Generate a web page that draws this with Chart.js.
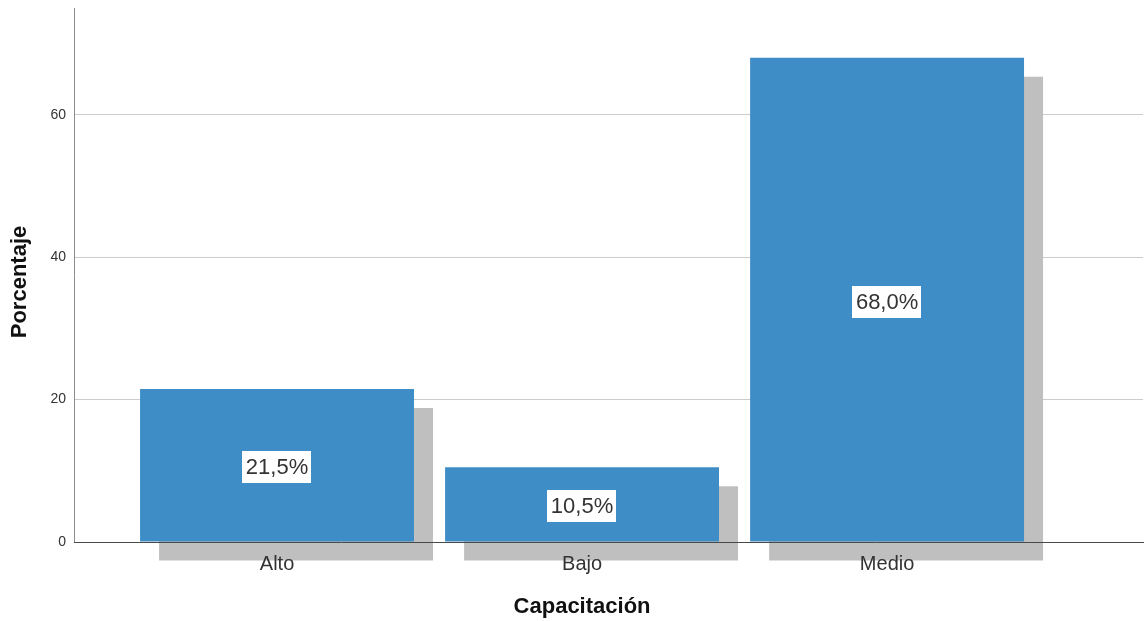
<!DOCTYPE html>
<html>
<head>
<meta charset="utf-8">
<script src="https://cdn.jsdelivr.net/npm/chart.js@4"></script>
<style>
  html, body { margin: 0; padding: 0; background: #ffffff; }
  #wrap { width: 1146px; height: 621px; position: relative; }
</style>
</head>
<body>
<div id="wrap"><canvas id="barChart"></canvas></div>
<script>
// data
const categories = ['Alto', 'Bajo', 'Medio'];
const percentages = [21.5, 10.5, 68.0];
const valueLabels = ['21,5%', '10,5%', '68,0%'];
const yTicks = [0, 20, 40, 60];
const xTitle = 'Capacitación';
const yTitle = 'Porcentaje';

const FONT = '"Liberation Sans", Arial, sans-serif';

// grey drop shadow behind every bar (canvas shadow, no blur)
const shadowPlugin = {
    id: 'barShadow',
    beforeDatasetsDraw(chart) {
        const ctx = chart.ctx;
        ctx.save();
        ctx.shadowColor = '#bfbfbf';
        ctx.shadowBlur = 0;
        ctx.shadowOffsetX = 19;
        ctx.shadowOffsetY = 19;
    },
    afterDatasetsDraw(chart) {
        chart.ctx.restore();
    }
};

// white boxes with the percent in the middle of each bar + axis titles
const labelPlugin = {
    id: 'labels',
    afterDraw(chart) {
        const ctx = chart.ctx;
        const meta = chart.getDatasetMeta(0);
        ctx.save();
        ctx.font = '22px ' + FONT;
        ctx.textAlign = 'center';
        ctx.textBaseline = 'middle';
        meta.data.forEach((bar, i) => {
            const txt = valueLabels[i];
            const cx = bar.x;
            const cy = (bar.y + bar.base) / 2 + 2;
            const w = ctx.measureText(txt).width + 7;
            const h = 32;
            ctx.fillStyle = '#ffffff';
            ctx.fillRect(Math.round(cx - w / 2), Math.round(cy - h / 2), Math.round(w), h);
            ctx.fillStyle = '#333333';
            ctx.fillText(txt, cx, cy + 1);
        });

        // axis titles
        const xs = chart.scales.x;
        const area = chart.chartArea;
        ctx.fillStyle = '#111111';
        ctx.font = 'bold 22px ' + FONT;
        const midX = (xs.getPixelForValue(0) + xs.getPixelForValue(categories.length - 1)) / 2;
        ctx.fillText(xTitle, midX, 607);

        ctx.translate(20, (area.top + area.bottom) / 2 + 7);
        ctx.rotate(-Math.PI / 2);
        ctx.fillText(yTitle, 0, 0);
        ctx.restore();
    }
};

function initChart() {
    const ctx = document.getElementById('barChart').getContext('2d');
    new Chart(ctx, {
        type: 'bar',
        data: {
            datasets: [{
                label: yTitle,
                data: percentages.map((v, i) => ({ x: i, y: v })),
                backgroundColor: '#3e8dc6',
                borderWidth: 0,
                barPercentage: 0.898,
                categoryPercentage: 1.0,
                clip: false
            }]
        },
        options: {
            responsive: true,
            maintainAspectRatio: false,
            animation: false,
            layout: { padding: { top: 8, right: 3, left: 0, bottom: 0 } },
            plugins: {
                legend: { display: false },
                tooltip: { enabled: false }
            },
            scales: {
                x: {
                    type: 'linear',
                    offset: false,
                    min: -0.6656,
                    max: 2.839,
                    grid: { display: false, drawTicks: false, offset: false },
                    border: { display: true, color: '#4a4a4a', width: 1, z: 1 },
                    afterBuildTicks: (scale) => {
                        scale.ticks = categories.map((c, i) => ({ value: i }));
                    },
                    afterFit: (scale) => {
                        scale.height = 79;
                        scale.paddingLeft = 0;
                        scale.paddingRight = 0;
                    },
                    ticks: {
                        z: 1,
                        padding: 10,
                        color: '#333333',
                        font: { family: FONT, size: 20 },
                        maxRotation: 0,
                        autoSkip: false,
                        callback: (v) => categories[v] ?? ''
                    }
                },
                y: {
                    min: 0,
                    max: 75,
                    grid: { color: '#cccccc', lineWidth: 1, drawTicks: false },
                    border: { display: true, color: '#8c8c8c', width: 1 },
                    afterBuildTicks: (scale) => {
                        scale.ticks = yTicks.map(v => ({ value: v }));
                    },
                    afterFit: (scale) => {
                        scale.width = 74;
                        scale.paddingTop = 0;
                        scale.paddingBottom = 0;
                    },
                    ticks: {
                        padding: 8,
                        color: '#333333',
                        font: { family: FONT, size: 14 }
                    }
                }
            }
        },
        plugins: [shadowPlugin, labelPlugin]
    });
}

window.onload = () => {
    initChart();
};
</script>
</body>
</html>
